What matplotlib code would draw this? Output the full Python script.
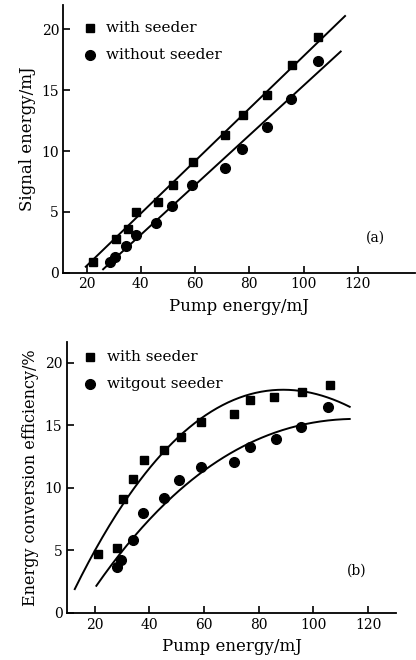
import numpy as np
import matplotlib
matplotlib.use("Agg")
import matplotlib.pyplot as plt

plt.rcParams["font.family"] = ["DejaVu Serif"]

# =========================================================
# (a) signal energy vs pump energy
# =========================================================
a_pump_with = [22.4, 30.8, 35.1, 38.4, 46.2, 52.0, 59.1, 71.1, 77.6, 86.4, 95.8, 105.5]
a_sig_with = [0.9, 2.75, 3.6, 5.0, 5.8, 7.2, 9.1, 11.3, 13.0, 14.6, 17.1, 19.4]

a_pump_without = [28.6, 30.4, 34.5, 38.4, 45.6, 51.4, 59.0, 71.1, 77.2, 86.4, 95.3, 105.5]
a_sig_without = [0.9, 1.3, 2.2, 3.1, 4.1, 5.5, 7.2, 8.6, 10.2, 12.0, 14.3, 17.4]

# fitted lines: slope, intercept, x range
a_fit_with = (0.2155, -3.75)
a_fit_with_range = (19.7, 115.3)
a_fit_without = (0.2043, -5.05)
a_fit_without_range = (26.1, 113.7)

# =========================================================
# (b) conversion efficiency vs pump energy
# =========================================================
b_pump_with = [21.2, 28.0, 30.4, 34.0, 37.9, 45.3, 51.5, 58.8, 71.0, 77.0, 85.5, 96.0, 106.2]
b_eff_with = [4.7, 5.2, 9.1, 10.7, 12.2, 13.0, 14.1, 15.3, 15.9, 17.0, 17.3, 17.7, 18.2]

b_pump_without = [28.0, 29.8, 34.0, 37.7, 45.3, 50.9, 58.8, 71.0, 77.0, 86.2, 95.6, 105.4]
b_eff_without = [3.7, 4.2, 5.8, 7.95, 9.15, 10.6, 11.7, 12.1, 13.3, 13.95, 14.9, 16.5]

# points
b_curve_with_x = [12.7, 21.2, 30.4, 43.8, 58.4, 65.7, 87.7, 99.9, 113.3]
b_curve_with_y = [2.03, 4.9, 9.15, 12.75, 15.2, 16.4, 17.8, 17.87, 16.35]
b_curve_without_x = [20.6, 34.0, 46.2, 59.6, 65.7, 73.1, 96.2, 113.3]
b_curve_without_y = [2.3, 5.55, 9.15, 11.4, 12.2, 13.15, 15.0, 15.55]

xticks = [20, 40, 60, 80, 100, 120]
yticks = [0, 5, 10, 15, 20]

fig = plt.figure(figsize=(4.16, 6.6), dpi=100)
ax1 = fig.add_axes([0.152, 0.5868, 0.845, 0.4056])
ax2 = fig.add_axes([0.160, 0.0707, 0.793, 0.4115])


def style_axes(ax):
    ax.spines["top"].set_visible(False)
    ax.spines["right"].set_visible(False)
    for s in ["left", "bottom"]:
        ax.spines[s].set_linewidth(1.3)
    ax.set_xticks(xticks)
    ax.set_yticks(yticks)
    ax.tick_params(direction="in", length=5, width=1.2, labelsize=10, pad=3)


# ---- panel a ----
ax1.plot(a_pump_with, a_sig_with, "s", color="black", ms=6)
ax1.plot(a_pump_without, a_sig_without, "o", color="black", ms=7)
for (k, b), (x0, x1) in [(a_fit_with, a_fit_with_range), (a_fit_without, a_fit_without_range)]:
    xs = np.array([x0, x1])
    ax1.plot(xs, k * xs + b, color="black", lw=1.4)
ax1.set_xlim(11.4, 141)
ax1.set_ylim(0, 22)
style_axes(ax1)
ax1.set_xlabel("Pump energy/mJ", fontsize=12, labelpad=5)
ax1.set_ylabel("Signal energy/mJ", fontsize=12, labelpad=4)
ax1.plot([21.2], [20.1], "s", color="black", ms=6)
ax1.plot([21.2], [17.9], "o", color="black", ms=7)
ax1.text(27.1, 20.1, "with seeder", fontsize=11, va="center")
ax1.text(27.1, 17.9, "without seeder", fontsize=11, va="center")
ax1.text(126.4, 2.86, "(a)", fontsize=10, ha="center", va="center")

# ---- panel b ----
ax2.plot(b_pump_with, b_eff_with, "s", color="black", ms=5.5)
ax2.plot(b_pump_without, b_eff_without, "o", color="black", ms=7)
for cx, cy in [(b_curve_with_x, b_curve_with_y), (b_curve_without_x, b_curve_without_y)]:
    coef = np.polyfit(cx, cy, 3)
    xs = np.linspace(cx[0], cx[-1], 200)
    ax2.plot(xs, np.polyval(coef, xs), color="black", lw=1.4)
ax2.set_xlim(9.7, 130.4)
ax2.set_ylim(-0.05, 21.7)
style_axes(ax2)
ax2.set_xlabel("Pump energy/mJ", fontsize=12, labelpad=5)
ax2.set_ylabel("Energy conversion efficiency/%", fontsize=11.5, labelpad=4)
ax2.plot([18.2], [20.5], "s", color="black", ms=5.5)
ax2.plot([18.2], [18.3], "o", color="black", ms=7)
ax2.text(24.4, 20.5, "with seeder", fontsize=11, va="center")
ax2.text(24.4, 18.3, "witgout seeder", fontsize=11, va="center")
ax2.text(115.9, 3.4, "(b)", fontsize=10, ha="center", va="center")

fig.savefig("out.png", dpi=100)
